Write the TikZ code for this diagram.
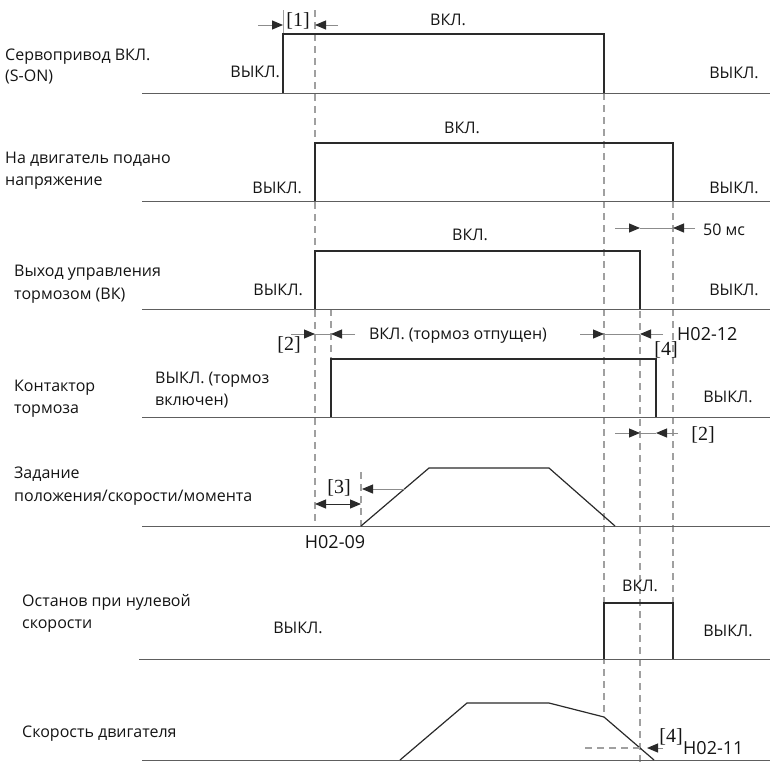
\documentclass[tikz,border=0pt]{standalone}
\usepackage{fontspec}
\setmainfont{Open Sans}
\newfontfamily\brfont{Liberation Serif}
\usetikzlibrary{arrows.meta}
\definecolor{sig}{HTML}{2A2A2A}
\definecolor{base}{HTML}{5E5E5E}
\definecolor{guide}{HTML}{A0A0A0}
\definecolor{shaft}{HTML}{8C8C8C}
\definecolor{ink}{HTML}{141414}
\begin{document}
\begin{tikzpicture}[x=1pt,y=-1pt,
  lbl/.style={font=\fontsize{16}{18}\selectfont, text=ink, inner sep=0, anchor=base west},
  stl/.style={font=\fontsize{16}{18}\selectfont, text=ink, inner sep=0, anchor=base},
  brk/.style={font=\brfont\fontsize{20}{20}\selectfont, text=ink, inner sep=0},
  code/.style={font=\fontsize{18}{18}\selectfont, text=ink, inner sep=0, anchor=base west},
  wave/.style={draw=sig, line width=1.5pt, line join=miter},
  axis/.style={draw=base, line width=1pt},
  guideline/.style={draw=guide, line width=1.2pt, dash pattern=on 7pt off 5pt},
  tick/.style={draw=guide, line width=1pt},
  dim/.style={draw=shaft, line width=1pt, -{Triangle[length=11pt,width=9pt,color=sig]}},
  dimboth/.style={draw=sig, line width=1pt, {Triangle[length=11pt,width=9pt]}-{Triangle[length=11pt,width=9pt]}},
  span/.style={draw=shaft, line width=1pt}]
\useasboundingbox (0,0) rectangle (770,763);

% ---------- vertical timing guides ----------
\coordinate (g1t) at (315,10);  \coordinate (g1b) at (315,526);
\coordinate (g2t) at (604,93);  \coordinate (g2b) at (604,717);
\coordinate (g3t) at (640,251); \coordinate (g3b) at (640,763);
\coordinate (g4t) at (673,201); \coordinate (g4b) at (673,603);
\coordinate (g5t) at (331,309); \coordinate (g5b) at (331,359);
\coordinate (g6t) at (361,472); \coordinate (g6b) at (361,526);
\coordinate (g7t) at (283,10);  \coordinate (g7b) at (283,34);
\draw[guideline] (g1t) -- (g1b);
\draw[guideline] (g2t) -- (g2b);
\draw[guideline] (g3t) -- (g3b);
\draw[guideline] (g4t) -- (g4b);
\draw[guideline] (g5t) -- (g5b);
\draw[guideline] (g6t) -- (g6b);
\draw[tick] (g7t) -- (g7b);

% ---------- axis lines ----------
\foreach \yb/\xs in {93/142,201/142,309/142,417/142,526/142,659/139,760/142}
  \draw[axis] (\xs,\yb) -- (770,\yb);

% ---------- waveforms ----------
% S-ON
\coordinate (a0) at (283,93); \coordinate (a1) at (283,34);
\coordinate (a2) at (604,34); \coordinate (a3) at (604,93);
\draw[wave] (a0) -- (a1) -- (a2) -- (a3);
% motor energised
\coordinate (b0) at (315,201); \coordinate (b1) at (315,143);
\coordinate (b2) at (673,143); \coordinate (b3) at (673,201);
\draw[wave] (b0) -- (b1) -- (b2) -- (b3);
% brake output BK
\coordinate (c0) at (315,309); \coordinate (c1) at (315,251);
\coordinate (c2) at (640,251); \coordinate (c3) at (640,309);
\draw[wave] (c0) -- (c1) -- (c2) -- (c3);
% brake contactor
\coordinate (d0) at (331,417); \coordinate (d1) at (331,359);
\coordinate (d2) at (656,359); \coordinate (d3) at (656,417);
\draw[wave] (d0) -- (d1) -- (d2) -- (d3);
% position / speed / torque command
\coordinate (e0) at (361,526); \coordinate (e1) at (429,468);
\coordinate (e2) at (549,468); \coordinate (e3) at (615,526);
\draw[wave, line width=1.2pt] (e0) -- (e1) -- (e2) -- (e3);
% zero-speed stop
\coordinate (f0) at (604,659); \coordinate (f1) at (604,603);
\coordinate (f2) at (673,603); \coordinate (f3) at (673,659);
\draw[wave] (f0) -- (f1) -- (f2) -- (f3);
% motor speed
\coordinate (h0) at (400,760); \coordinate (h1) at (467,703);
\coordinate (h2) at (549,703); \coordinate (h3) at (604,717);
\coordinate (h4) at (654,760);
\draw[wave, line width=1.2pt] (h0) -- (h1) -- (h2) -- (h3) -- (h4);

% ---------- signal names ----------
\node[lbl] (n1a) at (5,60)  {Сервопривод ВКЛ.};
\node[lbl] (n1b) at (5,81)  {(S-ON)};
\node[lbl] (n2a) at (5,163) {На двигатель подано};
\node[lbl] (n2b) at (5,185) {напряжение};
\node[lbl] (n3a) at (14,276) {Выход управления};
\node[lbl] (n3b) at (14,299) {тормозом (ВК)};
\node[lbl] (n4a) at (14,391) {Контактор};
\node[lbl] (n4b) at (14,413) {тормоза};
\node[lbl] (n5a) at (14,478) {Задание};
\node[lbl] (n5b) at (14,501) {положения/скорости/момента};
\node[lbl] (n6a) at (22,606) {Останов при нулевой};
\node[lbl] (n6b) at (22,628) {скорости};
\node[lbl] (n7a) at (22,737) {Скорость двигателя};

% ---------- state labels ----------
\node[stl, anchor=base east] (s1l) at (280,77) {ВЫКЛ.};
\node[stl] (s1m) at (448,25) {ВКЛ.};
\node[stl] (s1r) at (734,78) {ВЫКЛ.};
\node[stl, anchor=base east] (s2l) at (302,193) {ВЫКЛ.};
\node[stl] (s2m) at (462,133) {ВКЛ.};
\node[stl] (s2r) at (734,193) {ВЫКЛ.};
\node[stl, anchor=base east] (s3l) at (303,295) {ВЫКЛ.};
\node[stl] (s3m) at (470,240) {ВКЛ.};
\node[stl] (s3r) at (734,295) {ВЫКЛ.};
\node[stl] (s4m) at (458,339) {ВКЛ. (тормоз отпущен)};
\node[lbl] (s4l) at (155,383) {ВЫКЛ. (тормоз};
\node[lbl] (s4l2) at (155,405) {включен)};
\node[stl] (s4r) at (728,402) {ВЫКЛ.};
\node[stl] (s6m) at (640,591) {ВКЛ.};
\node[stl] (s6l) at (298,633) {ВЫКЛ.};
\node[stl] (s6r) at (728,636) {ВЫКЛ.};

% ---------- delay markers ----------
% [1]
\node[brk] (k1) at (298,21) {[1]};
\coordinate (k1a) at (258,25); \coordinate (k1b) at (283,25);
\coordinate (k1c) at (338,25); \coordinate (k1d) at (315,25);
\draw[dim] (k1a) -- (k1b);
\draw[dim] (k1c) -- (k1d);

% 50 ms
\node[stl, anchor=base west] (t50) at (703,235) {50 мс};
\coordinate (m1) at (615,228); \coordinate (m2) at (640,228);
\coordinate (m3) at (673,228); \coordinate (m4) at (695,228);
\draw[dim] (m1) -- (m2);
\draw[span] (m2) -- (m3);
\draw[dim] (m4) -- (m3);

% [2] at brake release
\node[brk] (k2) at (289,345) {[2]};
\coordinate (p1) at (291,334); \coordinate (p2) at (315,334);
\coordinate (p3) at (331,334); \coordinate (p4) at (355,334);
\draw[dim] (p1) -- (p2);
\draw[span] (p2) -- (p3);
\draw[dim] (p4) -- (p3);

% H02-12 and [4]
\node[code] (c12) at (677,340) {H02-12};
\node[brk] (k4a) at (666,350) {[4]};
\coordinate (q1) at (580,334); \coordinate (q2) at (604,334);
\coordinate (q3) at (640,334); \coordinate (q4) at (663,334);
\draw[dim] (q1) -- (q2);
\draw[span] (q2) -- (q3);
\draw[dim] (q4) -- (q3);

% [2] at brake engage
\node[brk] (k2b) at (703,435) {[2]};
\coordinate (r1) at (615,433); \coordinate (r2) at (640,433);
\coordinate (r3) at (656,433); \coordinate (r4) at (678,433);
\draw[dim] (r1) -- (r2);
\draw[span] (r2) -- (r3);
\draw[dim] (r4) -- (r3);

% [3] and H02-09
\node[brk] (k3) at (339,488) {[3]};
\node[code, anchor=base] (c09) at (335,548) {H02-09};
\coordinate (u1) at (315,504); \coordinate (u2) at (361,504);
\draw[dimboth] (u1) -- (u2);
\coordinate (v1) at (405,489); \coordinate (v2) at (362,489);
\draw[dim] (v1) -- (v2);

% [4] and H02-11 at speed threshold
\coordinate (w1) at (585,748); \coordinate (w2) at (640,748);
\draw[guideline] (w1) -- (w2);
\coordinate (w3) at (663,748); \coordinate (w4) at (647,748);
\draw[dim] (w3) -- (w4);
\node[brk] (k4b) at (671,737) {[4]};
\node[code] (c11) at (683,754) {H02-11};

\end{tikzpicture}
\end{document}
